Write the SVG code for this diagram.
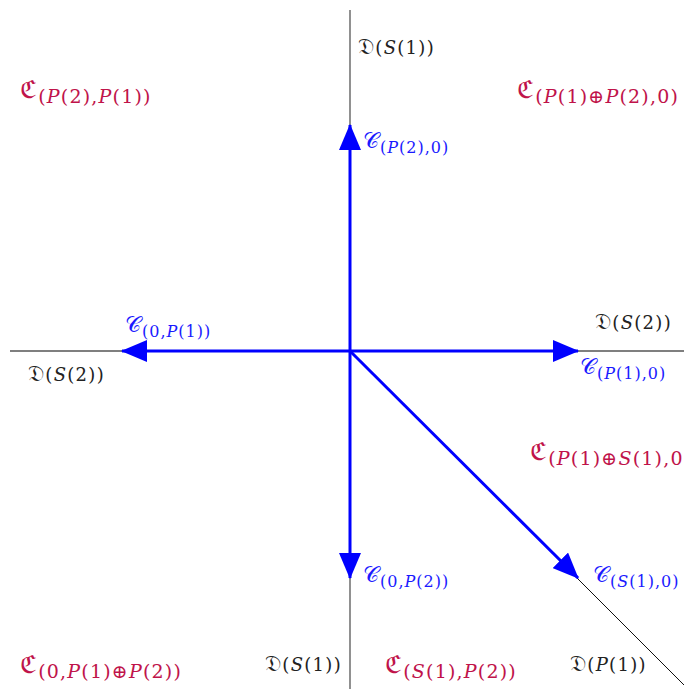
<svg xmlns="http://www.w3.org/2000/svg" width="684" height="689" viewBox="0 0 684 689">
<style>
.ax{stroke:#555;stroke-width:1.3;fill:none}
.dg{stroke:#111;stroke-width:1;fill:none}
.ar{stroke:#0000ff;stroke-width:3;fill:none}
text{font-family:"DejaVu Serif","Liberation Serif",serif}
.d{font-size:18px;fill:#222;letter-spacing:1.3px}
.c{font-size:16px;fill:#1a1aff;letter-spacing:1px}
.r{font-size:19px;fill:#c0134a;letter-spacing:1.2px}
.big{font-size:25px}
.dbig{font-size:22px}
.cbig{font-size:22px}
.it{font-style:italic}
</style>
<defs>
<marker id="ah" markerUnits="userSpaceOnUse" markerWidth="26" markerHeight="22" refX="25" refY="11" orient="auto">
<path d="M0,0 L26,11 L0,22 Z" fill="#0000ff"/>
</marker>
</defs>
<g id="axes">
<line class="ax" x1="350" y1="10" x2="350" y2="689"/>
<line class="ax" x1="10" y1="351" x2="684" y2="351"/>
<line class="dg" x1="350" y1="351" x2="684" y2="685"/>
</g>
<g id="connectors">
<line class="ar" x1="350" y1="351" x2="350" y2="125" marker-end="url(#ah)"/>
<line class="ar" x1="350" y1="351" x2="122" y2="351" marker-end="url(#ah)"/>
<line class="ar" x1="350" y1="351" x2="578" y2="351" marker-end="url(#ah)"/>
<line class="ar" x1="350" y1="351" x2="350" y2="578" marker-end="url(#ah)"/>
<line class="ar" x1="350" y1="351" x2="578" y2="578" marker-end="url(#ah)"/>
</g>
<g id="labels-D">
<text class="d" x="358" y="54"><tspan class="dbig">𝔇</tspan>(<tspan class="it">S</tspan>(1))</text>
<text class="d" x="595" y="329"><tspan class="dbig">𝔇</tspan>(<tspan class="it">S</tspan>(2))</text>
<text class="d" x="28" y="381"><tspan class="dbig">𝔇</tspan>(<tspan class="it">S</tspan>(2))</text>
<text class="d" x="265" y="671"><tspan class="dbig">𝔇</tspan>(<tspan class="it">S</tspan>(1))</text>
<text class="d" x="570" y="671"><tspan class="dbig">𝔇</tspan>(<tspan class="it">P</tspan>(1))</text>
</g>
<g id="labels-C">
<text class="c" x="363" y="148"><tspan class="cbig">𝒞</tspan><tspan dy="5">(<tspan class="it">P</tspan>(2),0)</tspan></text>
<text class="c" x="125" y="332"><tspan class="cbig">𝒞</tspan><tspan dy="5">(0,<tspan class="it">P</tspan>(1))</tspan></text>
<text class="c" x="580" y="374"><tspan class="cbig">𝒞</tspan><tspan dy="5">(<tspan class="it">P</tspan>(1),0)</tspan></text>
<text class="c" x="363" y="582"><tspan class="cbig">𝒞</tspan><tspan dy="5">(0,<tspan class="it">P</tspan>(2))</tspan></text>
<text class="c" x="593" y="582"><tspan class="cbig">𝒞</tspan><tspan dy="5">(<tspan class="it">S</tspan>(1),0)</tspan></text>
</g>
<g id="labels-R">
<text class="r" x="20" y="98"><tspan class="big">ℭ</tspan><tspan dy="5">(<tspan class="it">P</tspan>(2),<tspan class="it">P</tspan>(1))</tspan></text>
<text class="r" x="517" y="98"><tspan class="big">ℭ</tspan><tspan dy="5">(<tspan class="it">P</tspan>(1)⊕<tspan class="it">P</tspan>(2),0)</tspan></text>
<text class="r" x="530" y="460"><tspan class="big">ℭ</tspan><tspan dy="5">(<tspan class="it">P</tspan>(1)⊕<tspan class="it">S</tspan>(1),0)</tspan></text>
<text class="r" x="20" y="673"><tspan class="big">ℭ</tspan><tspan dy="5">(0,<tspan class="it">P</tspan>(1)⊕<tspan class="it">P</tspan>(2))</tspan></text>
<text class="r" x="385" y="673"><tspan class="big">ℭ</tspan><tspan dy="5">(<tspan class="it">S</tspan>(1),<tspan class="it">P</tspan>(2))</tspan></text>
</g>
</svg>
